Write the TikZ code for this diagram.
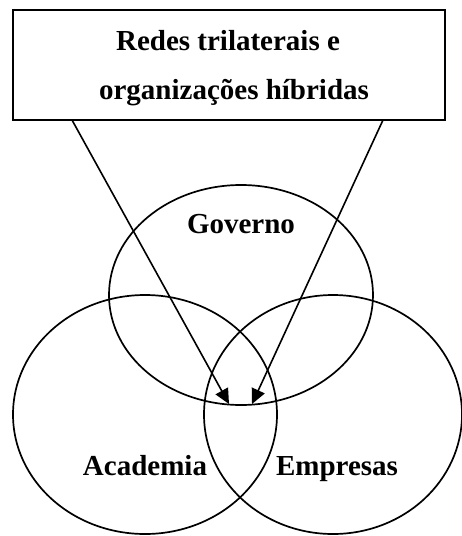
\documentclass[tikz,border=0pt]{standalone}
\usepackage{fontspec}
\setmainfont{Liberation Serif}
\usetikzlibrary{arrows.meta,shapes.geometric}
\begin{document}
\begin{tikzpicture}[x=1pt,y=-1pt,
  lbl/.style={font=\fontsize{29}{29}\selectfont\bfseries, inner sep=0pt, anchor=base},
  setc/.style={draw, ellipse, inner sep=0pt, line width=1.7pt},
  arr/.style={-{Triangle[length=15pt,width=14pt]}, line width=1.6pt}]
\useasboundingbox (0,0) rectangle (461,536);
\node[draw, line width=1.8pt, minimum width=432pt, minimum height=110pt, inner sep=0pt] (box) at (229,65) {};
\node[lbl] (t1) at (228,50) {Redes trilaterais e};
\node[lbl] (t2) at (234,99) {organizações híbridas};
\node[setc, minimum width=264pt, minimum height=220pt] (gov) at (241,295) {};
\node[setc, minimum width=264pt, minimum height=239pt] (aca) at (145,414.5) {};
\node[setc, minimum width=258pt, minimum height=239pt] (emp) at (333,414.5) {};
\node[lbl] (lg) at (241,233) {Governo};
\node[lbl] (la) at (145,475) {Academia};
\node[lbl] (le) at (337,475) {Empresas};
\coordinate (p1) at (72,120);
\coordinate (p2) at (383,120);
\coordinate (q1) at (229,404);
\coordinate (q2) at (252,404);
\draw[arr] (p1) -- (q1);
\draw[arr] (p2) -- (q2);
\end{tikzpicture}
\end{document}
